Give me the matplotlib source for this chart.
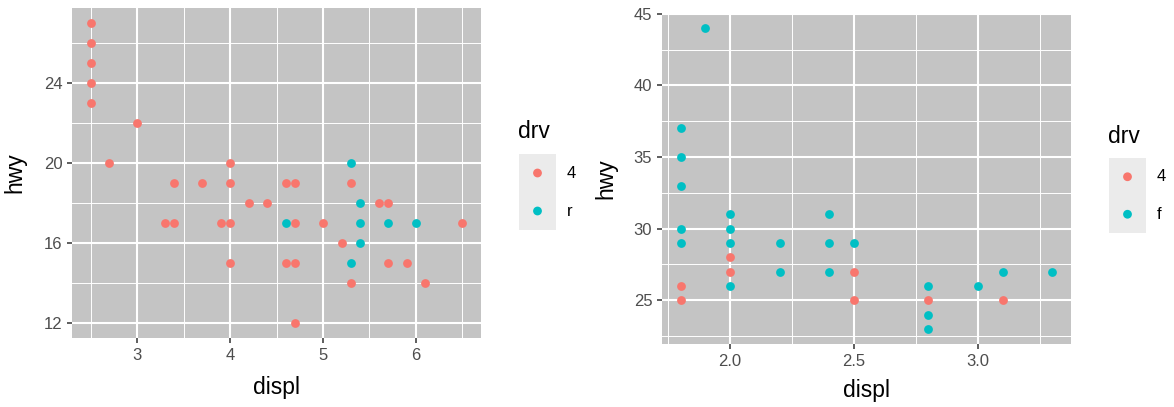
import matplotlib
matplotlib.use("Agg")
import matplotlib.pyplot as plt
from matplotlib.ticker import MultipleLocator

plt.rcParams['font.family'] = ['Liberation Sans', 'DejaVu Sans']

# ---- data: left panel (drv = 4 / r) ----
left_4_displ = [2.5, 2.5, 2.5, 2.5, 2.5, 3.0, 2.7, 4.0, 3.4, 3.7, 4.0, 4.6, 4.7, 5.3,
                4.2, 4.4, 5.6, 5.7, 3.3, 3.4, 3.9, 4.0, 4.7, 5.0, 6.5, 5.2, 4.0, 4.6,
                4.7, 5.7, 5.9, 5.3, 6.1, 4.7]
left_4_hwy = [27, 26, 25, 24, 23, 22, 20, 20, 19, 19, 19, 19, 19, 19,
              18, 18, 18, 18, 17, 17, 17, 17, 17, 17, 17, 16, 15, 15,
              15, 15, 15, 14, 14, 12]
left_r_displ = [5.3, 5.4, 4.6, 5.4, 5.7, 6.0, 5.4, 5.3]
left_r_hwy = [20, 18, 17, 17, 17, 17, 16, 15]

# ---- data: right panel (drv = 4 / f) ----
right_4_displ = [1.8, 1.8, 2.0, 2.0, 2.5, 2.5, 2.8, 3.1]
right_4_hwy = [26, 25, 28, 27, 27, 25, 25, 25]
right_f_displ = [1.8, 1.8, 1.8, 1.8, 1.8, 1.9, 2.0, 2.0, 2.0, 2.0, 2.2, 2.2, 2.4, 2.4,
                 2.4, 2.5, 2.8, 2.8, 2.8, 3.0, 3.1, 3.3]
right_f_hwy = [37, 35, 33, 30, 29, 44, 31, 30, 29, 26, 29, 27, 31, 29,
               27, 29, 26, 24, 23, 26, 27, 27]

left_xticks = [3, 4, 5, 6]
left_yticks = [12, 16, 20, 24]
right_xticks = [2.0, 2.5, 3.0]
right_xticklabels = ['2.0', '2.5', '3.0']
right_yticks = [25, 30, 35, 40, 45]

legend_left_labels = ['4', 'r']
legend_right_labels = ['4', 'f']

RED = '#F8766D'
TEAL = '#00BFC4'
PANEL = '#C4C4C4'
KEYBG = '#EBEBEB'
W, H = 1174, 407
TICK_FS = 12
TITLE_FS = 16.5

fig = plt.figure(figsize=(W / 100, H / 100), dpi=100)


def ax_rect(x0, y0, x1, y1):
    return [x0 / W, 1 - y1 / H, (x1 - x0) / W, (y1 - y0) / H]


def style(ax, xmaj, xmin, ymaj, ymin):
    ax.set_facecolor(PANEL)
    for s in ax.spines.values():
        s.set_visible(False)
    ax.xaxis.set_major_locator(MultipleLocator(xmaj))
    ax.xaxis.set_minor_locator(MultipleLocator(xmin))
    ax.yaxis.set_major_locator(MultipleLocator(ymaj))
    ax.yaxis.set_minor_locator(MultipleLocator(ymin))
    ax.grid(True, which='major', color='white', linewidth=1.5)
    ax.grid(True, which='minor', color='white', linewidth=0.7)
    ax.set_axisbelow(True)
    ax.tick_params(which='major', length=3.5, width=1.1, color='#333333',
                   labelsize=TICK_FS, labelcolor='#4D4D4D', pad=3.5)
    ax.tick_params(which='minor', length=0)


# left panel
ax1 = fig.add_axes(ax_rect(72, 8, 481, 338))
style(ax1, 1, 0.5, 4, 2)
ax1.scatter(left_4_displ, left_4_hwy, s=40, color=RED, linewidths=0, zorder=3)
ax1.scatter(left_r_displ, left_r_hwy, s=40, color=TEAL, linewidths=0, zorder=3)
ax1.set_xlim(2.3, 6.7)
ax1.set_ylim(11.25, 27.75)
ax1.set_xticks(left_xticks)
ax1.set_yticks(left_yticks)
ax1.set_xlabel('displ', fontsize=TITLE_FS, color='black')
ax1.set_ylabel('hwy', fontsize=TITLE_FS, color='black')
ax1.xaxis.set_label_coords(0.5, -0.115)
ax1.yaxis.set_label_coords(-0.112, 0.5)

# right panel
ax2 = fig.add_axes(ax_rect(662, 13, 1071, 344))
style(ax2, 0.5, 0.25, 5, 2.5)
ax2.scatter(right_4_displ, right_4_hwy, s=40, color=RED, linewidths=0, zorder=3)
ax2.scatter(right_f_displ, right_f_hwy, s=40, color=TEAL, linewidths=0, zorder=3)
ax2.set_xlim(1.725, 3.375)
ax2.set_ylim(21.95, 45.05)
ax2.set_xticks(right_xticks)
ax2.set_xticklabels(right_xticklabels)
ax2.set_yticks(right_yticks)
ax2.set_xlabel('displ', fontsize=TITLE_FS, color='black')
ax2.set_ylabel('hwy', fontsize=TITLE_FS, color='black')
ax2.xaxis.set_label_coords(0.5, -0.106)
ax2.yaxis.set_label_coords(-0.110, 0.5)


def legend(x0, y0, x1, y1, title_xy, labels):
    lax = fig.add_axes(ax_rect(x0, y0, x1, y1))
    lax.set_facecolor(KEYBG)
    for s in lax.spines.values():
        s.set_visible(False)
    lax.set_xticks([])
    lax.set_yticks([])
    lax.set_xlim(0, 1)
    lax.set_ylim(0, 2)
    lax.scatter([0.5, 0.5], [1.5, 0.5], s=40, color=[RED, TEAL], linewidths=0)
    for i, lab in enumerate(labels):
        lax.text(1.3, 1.5 - i, lab, fontsize=TICK_FS, color='black',
                 va='center', ha='left', transform=lax.transData, clip_on=False)
    fig.text(title_xy[0] / W, 1 - title_xy[1] / H, 'drv', fontsize=TITLE_FS,
             ha='left', va='baseline')


legend(519, 154, 556, 230, (518, 138), legend_left_labels)
legend(1109, 158, 1146, 233, (1108, 143), legend_right_labels)

fig.savefig('out.png', dpi=100)
